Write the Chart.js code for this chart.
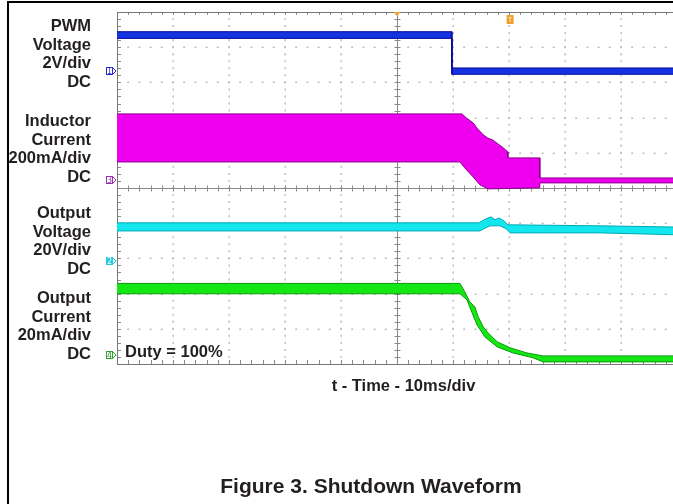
<!DOCTYPE html>
<html>
<head>
<meta charset="utf-8">
<script src="https://cdn.jsdelivr.net/npm/chart.js@4.4.1/dist/chart.umd.min.js"></script>
<style>
  html, body { margin: 0; padding: 0; background: #fff; width: 673px; height: 504px; overflow: hidden; }
  body { position: relative; font-family: "Liberation Sans", Arial, sans-serif; font-weight: bold; color: #231f20; }
  #scope { position: absolute; left: 0; top: 0; }
  .rule-top { position: absolute; left: 7px; top: 1px; width: 700px; height: 2px; background: #000; }
  .rule-left { position: absolute; left: 7px; top: 1px; width: 2px; height: 520px; background: #000; }
  .lbl { position: absolute; left: 0; width: 91px; text-align: right; font-size: 16.5px; line-height: 18.7px; }
  .note { position: absolute; white-space: nowrap; }
</style>
</head>
<body>
<div class="rule-top"></div>
<div class="rule-left"></div>
<canvas id="scope" width="700" height="504"></canvas>

<div class="lbl" style="top:16px">PWM<br>Voltage<br>2V/div<br>DC</div>
<div class="lbl" style="top:111px">Inductor<br>Current<br>200mA/div<br>DC</div>
<div class="lbl" style="top:203px">Output<br>Voltage<br>20V/div<br>DC</div>
<div class="lbl" style="top:288px">Output<br>Current<br>20mA/div<br>DC</div>
<div class="note" style="left:125px;top:343px;font-size:16.5px;line-height:17px">Duty = 100%</div>
<div class="note" style="left:0;width:807px;text-align:center;top:377px;font-size:16.5px;line-height:16.5px">t - Time - 10ms/div</div>
<div class="note" style="left:0;width:742px;text-align:center;top:475px;font-size:21px;line-height:21px">Figure 3. Shutdown Waveform</div>

<script>
// time axis in ms (10 ms/div, trigger at 0), values in channel units

// CH1 PWM voltage (V)
const pwmTime  = [-50, 9.8, 9.8, 50];
const pwmUpper = [2.24, 2.24, 0.18, 0.18];
const pwmLower = [1.86, 1.86, -0.18, -0.18];

// CH3 inductor current (mA)
const ilTimeUp = [-50, 11.6, 12.4, 13.6, 14.4, 15.4, 16.2, 17.1, 18.0, 18.75, 19.8, 19.8, 25.5, 25.5, 50];
const ilUpper  = [375, 375, 352, 324, 290, 256, 238, 227, 205, 188, 159, 125, 125, 11, 11];
const ilTimeLo = [-50, 11.25, 12.1, 13.6, 14.8, 16.25, 25.5, 25.5, 50];
const ilLower  = [102, 102, 68, 17, -28, -51, -45, -17, -17];

// CH2 output voltage (V)
const voTimeUp = [-50, 14.6, 15.9, 16.8, 17.5, 18.2, 19.1, 19.8, 36.25, 50];
const voUpper  = [21.6, 21.6, 23.9, 25.0, 23.3, 24.4, 22.7, 20.5, 19.9, 19.2];
const voTimeLo = [-50, 14.8, 15.5, 16.6, 18.4, 19.5, 20.2, 36.25, 50];
const voLower  = [17.0, 17.0, 18.2, 19.9, 19.9, 18.2, 15.9, 15.9, 14.8];

// CH4 output current (mA)
const ioTimeUp = [-50, 11.25, 12.1, 13.0, 13.9, 14.5, 15.4, 16.25, 17.9, 20.2, 23.2, 26.1, 50];
const ioUpper  = [40.6, 40.6, 35.8, 30.1, 27.3, 21.6, 15.9, 12.5, 7.4, 4.0, 1.1, -0.6, -0.6];
const ioTimeLo = [-50, 11.25, 12.5, 13.4, 14.3, 15.7, 17.9, 20.7, 24.3, 26.1, 50];
const ioLower  = [34.7, 34.7, 31.2, 23.9, 17.0, 10.2, 4.5, 1.1, -1.7, -4.0, -4.0];

// scope settings: units per division and ground marker position (div)
const channels = [
  { id: '1', perDiv: 2,   ground: 3.32,  fill: '#1532e0', edge: '#0a0a9a', mark: '#2a2ad0', solid: false },
  { id: '3', perDiv: 200, ground: 0.23,  fill: '#ee00ee', edge: '#8a0090', mark: '#9a30b0', solid: false },
  { id: '2', perDiv: 20,  ground: -2.07, fill: '#14e6ee', edge: '#00a8b8', mark: '#20c8e0', solid: true },
  { id: '4', perDiv: 20,  ground: -4.74, fill: '#14e814', edge: '#0a9a0a', mark: '#30a030', solid: false }
];
const triggerTime = 0;
const cursorTime = 20.2;

function pts(t, v, ch) {
  return t.map((tt, i) => ({ x: tt, y: v[i] / ch.perDiv + ch.ground }));
}

function band(tu, vu, tl, vl, ch) {
  return [
    { data: pts(tu, vu, ch), borderColor: ch.edge, borderWidth: 1, fill: false },
    { data: pts(tl, vl, ch), borderColor: ch.edge, borderWidth: 1, fill: '-1', backgroundColor: ch.fill }
  ];
}

const datasets = [].concat(
  band(pwmTime, pwmUpper, pwmTime, pwmLower, channels[0]),
  band(ilTimeUp, ilUpper, ilTimeLo, ilLower, channels[1]),
  band(voTimeUp, voUpper, voTimeLo, voLower, channels[2]),
  band(ioTimeUp, ioUpper, ioTimeLo, ioLower, channels[3])
);

const scopeGrid = {
  id: 'scopeGrid',
  beforeDatasetsDraw(chart) {
    const { ctx, chartArea: a, scales: { x, y } } = chart;
    ctx.save();
    ctx.fillStyle = '#bdbdbd';
    for (let i = -4; i <= 4; i++) {
      if (i === 0) continue;
      const px = Math.round(x.getPixelForValue(i * 10));
      for (let j = -24; j <= 24; j++) {
        ctx.fillRect(px - 0.5, y.getPixelForValue(j / 5) - 1, 1.5, 2);
      }
      const py = Math.round(y.getPixelForValue(i));
      for (let j = -24; j <= 24; j++) {
        ctx.fillRect(x.getPixelForValue(j * 2) - 1, py - 0.5, 2, 1.5);
      }
    }
    ctx.strokeStyle = '#8a8a8a';
    ctx.lineWidth = 1;
    const cx = Math.round(x.getPixelForValue(0)) + 0.5;
    const cy = Math.round(y.getPixelForValue(0)) + 0.5;
    ctx.beginPath();
    ctx.moveTo(cx, a.top); ctx.lineTo(cx, a.bottom);
    ctx.moveTo(a.left, cy); ctx.lineTo(a.right, cy);
    for (let j = -24; j <= 24; j++) {
      const py = Math.round(y.getPixelForValue(j / 5)) + 0.5;
      ctx.moveTo(cx - 3, py); ctx.lineTo(cx + 3, py);
      ctx.moveTo(a.left, py); ctx.lineTo(a.left + 4, py);
      const px = Math.round(x.getPixelForValue(j * 2)) + 0.5;
      ctx.moveTo(px, cy - 3); ctx.lineTo(px, cy + 3);
      ctx.moveTo(px, a.bottom); ctx.lineTo(px, a.bottom - 4);
      ctx.moveTo(px, a.top); ctx.lineTo(px, a.top + 3);
    }
    ctx.stroke();
    ctx.strokeStyle = '#777';
    ctx.strokeRect(Math.round(a.left) + 0.5, Math.round(a.top) + 0.5, a.right - a.left, a.bottom - a.top);
    ctx.restore();
  },
  afterDraw(chart) {
    const { ctx, chartArea: a, scales: { x, y } } = chart;
    ctx.save();
    ctx.font = '8px "DejaVu Sans", sans-serif';
    ctx.textAlign = 'center';
    ctx.textBaseline = 'middle';
    channels.forEach((ch) => {
      const py = Math.round(y.getPixelForValue(ch.ground));
      const bx = a.left - 11;
      ctx.lineWidth = 1;
      ctx.strokeStyle = ch.mark;
      if (ch.solid) {
        ctx.fillStyle = ch.mark;
        ctx.fillRect(bx, py - 4, 7, 8);
      } else {
        ctx.strokeRect(bx + 0.5, py - 3.5, 6, 7);
      }
      ctx.beginPath();
      ctx.moveTo(bx + 7, py - 3); ctx.lineTo(bx + 10, py); ctx.lineTo(bx + 7, py + 3);
      ctx.stroke();
      ctx.fillStyle = ch.solid ? '#fff' : ch.mark;
      ctx.fillText(ch.id, bx + 3.5, py + 0.5);
    });
    // trigger position and level markers
    ctx.fillStyle = '#f0a030';
    const tx = x.getPixelForValue(triggerTime);
    ctx.beginPath();
    ctx.moveTo(tx - 3.5, a.top); ctx.lineTo(tx + 3.5, a.top); ctx.lineTo(tx, a.top + 4);
    ctx.fill();
    const ux = x.getPixelForValue(cursorTime);
    ctx.fillRect(ux - 3.5, a.top + 3, 7, 9);
    ctx.fillStyle = '#fde8b0';
    ctx.fillRect(ux - 1.5, a.top + 5, 3, 1);
    ctx.fillRect(ux - 0.5, a.top + 5, 1, 5);
    ctx.restore();
  }
};

new Chart(document.getElementById('scope'), {
  type: 'line',
  data: { datasets },
  options: {
    responsive: false,
    animation: false,
    parsing: true,
    layout: { padding: { left: 117, top: 12, right: 23, bottom: 140 } },
    elements: { point: { radius: 0 }, line: { tension: 0 } },
    plugins: { legend: { display: false }, tooltip: { enabled: false } },
    scales: {
      x: { type: 'linear', min: -50, max: 50, display: false },
      y: { type: 'linear', min: -5, max: 5, display: false }
    }
  },
  plugins: [scopeGrid]
});
</script>
</body>
</html>
